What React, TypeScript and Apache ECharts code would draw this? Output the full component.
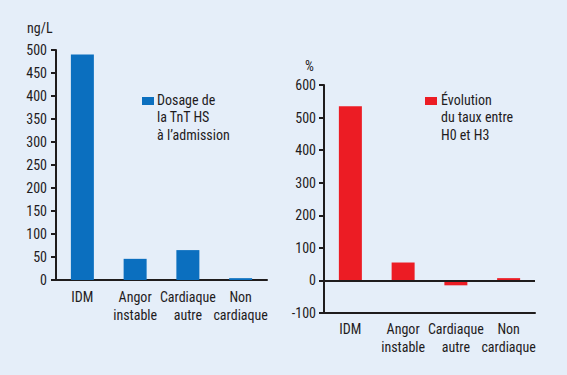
import React, { useEffect, useRef } from "react";
import * as echarts from "echarts";

const categories = ["IDM", "Angor\ninstable", "Cardiaque\nautre", "Non\ncardiaque"];
const tntValues = [490, 46, 65, 4];
const evolutionValues = [535, 55, -15, 7];
const leftUnit = "ng/L";
const rightUnit = "%";
const leftLegend = "Dosage de\nla TnT HS\nà l’admission";
const rightLegend = "Évolution\ndu taux entre\nH0 et H3";

const FONT = "'Roboto Condensed', 'DejaVu Sans Condensed', sans-serif";
const INK = "#1f1c1d";
const BLUE = "#0b6fbf";
const RED = "#ec1c24";

export default function App() {
  const ref = useRef<HTMLDivElement>(null);
  useEffect(() => {
    if (!ref.current) return;
    const chart = echarts.init(ref.current, undefined, { renderer: "svg" });
    const axisLine = { show: true, lineStyle: { color: INK, width: 2 } };
    const yTick = { show: true, length: 5, lineStyle: { color: INK, width: 2 } };
    const label = { color: INK, fontFamily: FONT, fontSize: 14 };
    const font = `14px ${FONT}`;
    chart.setOption({
      animation: false,
      backgroundColor: "#e5eef9",
      textStyle: { fontFamily: FONT },
      grid: [
        { left: 56, top: 50, width: 211, height: 230 },
        { left: 324, top: 85, width: 211, height: 228 },
      ],
      xAxis: [
        {
          type: "category",
          gridIndex: 0,
          data: categories,
          axisLine,
          axisTick: { show: false },
          axisLabel: { ...label, margin: 8, lineHeight: 18, interval: 0 },
        },
        {
          type: "category",
          gridIndex: 1,
          data: categories,
          axisLine: { ...axisLine, onZero: false },
          axisTick: { show: false },
          axisLabel: { ...label, margin: 7, lineHeight: 18, interval: 0 },
        },
      ],
      yAxis: [
        {
          type: "value",
          gridIndex: 0,
          min: 0,
          max: 500,
          interval: 50,
          axisLine,
          axisTick: yTick,
          splitLine: { show: false },
          axisLabel: { ...label, margin: 9 },
        },
        {
          type: "value",
          gridIndex: 1,
          min: -100,
          max: 600,
          interval: 100,
          axisLine,
          axisTick: yTick,
          splitLine: { show: false },
          axisLabel: { ...label, margin: 8 },
        },
      ],
      series: [
        {
          type: "bar",
          xAxisIndex: 0,
          yAxisIndex: 0,
          data: tntValues,
          barWidth: 23,
          itemStyle: { color: BLUE },
        },
        {
          type: "bar",
          xAxisIndex: 1,
          yAxisIndex: 1,
          data: evolutionValues,
          barWidth: 23,
          itemStyle: { color: RED },
          markLine: {
            silent: true,
            symbol: ["none", "none"],
            label: { show: false },
            lineStyle: { color: INK, width: 2, type: "solid" },
            data: [{ yAxis: 0 }],
          },
        },
      ],
      graphic: [
        {
          type: "text",
          left: 27,
          top: 21,
          style: { text: leftUnit, fill: INK, font },
        },
        {
          type: "text",
          left: 305,
          top: 59,
          style: { text: rightUnit, fill: INK, font },
        },
        {
          type: "rect",
          left: 142,
          top: 97,
          shape: { width: 12, height: 8 },
          style: { fill: BLUE },
        },
        {
          type: "text",
          left: 157,
          top: 91,
          style: { text: leftLegend, fill: INK, font, lineHeight: 17.5 },
        },
        {
          type: "rect",
          left: 425,
          top: 97,
          shape: { width: 12, height: 8 },
          style: { fill: RED },
        },
        {
          type: "text",
          left: 441,
          top: 91,
          style: { text: rightLegend, fill: INK, font, lineHeight: 17.5 },
        },
      ],
    });
    return () => chart.dispose();
  }, []);
  return (
    <div
      ref={ref}
      style={{ position: "fixed", left: 0, top: 0, width: 567, height: 375 }}
    />
  );
}
